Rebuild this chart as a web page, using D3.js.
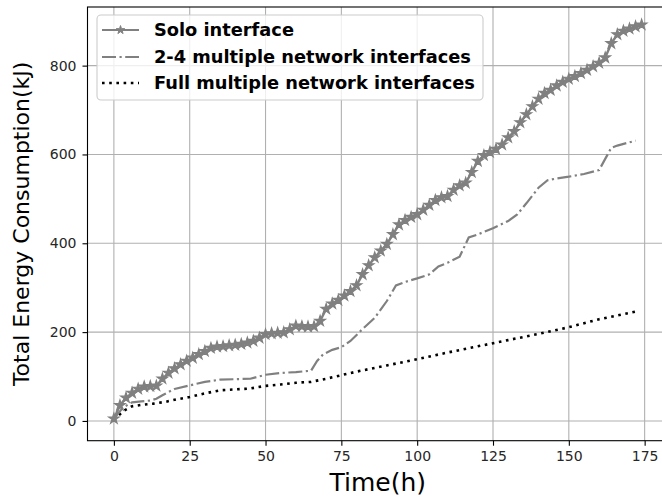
<!DOCTYPE html>
<html>
<head>
<meta charset="utf-8">
<script src="https://cdn.jsdelivr.net/npm/d3@7"></script>
<style>
  body { margin: 0; background: #fff; }
  text { font-family: "DejaVu Sans", sans-serif; }
</style>
</head>
<body>
<div id="chart"></div>
<script>
// solo interface, sampled every 2 h (star markers on every point)
let solo_hours = d3.range(0, 175, 2);
let solo_values = [5, 35, 52, 63, 72, 77, 78, 79, 95, 108,
  118, 127, 135, 142, 150, 157, 164, 167, 168, 170,
  171, 173, 176, 180, 187, 195, 197, 198, 199, 206,
  214, 213, 212, 213, 225, 252, 264, 272, 282, 292,
  305, 330, 350, 368, 383, 398, 420, 442, 452, 459,
  465, 475, 486, 497, 503, 506, 520, 530, 536, 560,
  585, 598, 605, 612, 622, 638, 652, 672, 690, 708,
  725, 738, 745, 755, 763, 770, 776, 783, 790, 798,
  806, 818, 850, 870, 878, 883, 888, 892];

// 2-4 multiple network interfaces
let multi_hours = [0, 3, 6, 9, 12, 14, 16, 20, 25, 30, 35, 40, 45, 50, 55, 60, 65, 67, 69, 72,
  75, 78, 82, 86, 90, 93, 96, 100, 104, 107, 110, 114, 117, 120, 125, 130, 133, 136, 140, 143,
  146, 150, 155, 160, 162, 164, 166, 172];
let multi_values = [5, 30, 42, 44, 46, 50, 58, 72, 80, 88, 93, 94, 95, 104, 108, 110, 113, 135, 150, 160,
  166, 180, 207, 232, 270, 305, 313, 321, 330, 348, 356, 370, 413, 420, 434, 450, 465, 490, 525, 542,
  546, 550, 556, 565, 590, 615, 620, 631];

// full multiple network interfaces
let full_hours = [0, 3, 6, 10, 13, 17, 21, 25, 30, 35, 40, 45, 50, 55, 60, 65, 70, 75, 80, 90,
  100, 110, 120, 130, 140, 150, 160, 172];
let full_values = [2, 22, 33, 37, 39, 43, 49, 54, 62, 69, 71, 73, 79, 82, 86, 88, 95, 103, 111, 125,
  139, 154, 168, 182, 196, 211, 229, 246];

let x_ticks = [0, 25, 50, 75, 100, 125, 150, 175];
let y_ticks = [0, 200, 400, 600, 800];
let legend_labels = ["Solo interface", "2-4 multiple network interfaces", "Full multiple network interfaces"];

let chart_width = 662;
let chart_height = 499;
let plot_left = 87.5, plot_top = 7, plot_right = 668, plot_bottom = 440.7; // right spine falls off the picture

let svg = d3.select("#chart")
  .append("svg")
  .attr("width", chart_width)
  .attr("height", chart_height);

svg.append("rect").attr("width", chart_width).attr("height", chart_height).attr("fill", "#fff");

let x_scale = d3.scaleLinear().domain([-8.7, 182.7]).range([plot_left, plot_right]);
let y_scale = d3.scaleLinear().domain([-44.5, 932]).range([plot_bottom, plot_top]);

// grid
svg.append("g")
  .selectAll("line")
  .data(x_ticks)
  .enter()
  .append("line")
  .attr("x1", d => x_scale(d)).attr("x2", d => x_scale(d))
  .attr("y1", plot_top).attr("y2", plot_bottom)
  .attr("stroke", "#b0b0b0").attr("stroke-width", 1.1);

svg.append("g")
  .selectAll("line")
  .data(y_ticks)
  .enter()
  .append("line")
  .attr("x1", plot_left).attr("x2", plot_right)
  .attr("y1", d => y_scale(d)).attr("y2", d => y_scale(d))
  .attr("stroke", "#b0b0b0").attr("stroke-width", 1.1);

// axes
let x_axis = svg.append("g")
  .attr("transform", "translate(0," + plot_bottom + ")")
  .call(d3.axisBottom(x_scale).tickValues(x_ticks).tickSize(5).tickPadding(5));
let y_axis = svg.append("g")
  .attr("transform", "translate(" + plot_left + ",0)")
  .call(d3.axisLeft(y_scale).tickValues(y_ticks).tickSize(5).tickPadding(6));

[x_axis, y_axis].forEach(function (ax) {
  ax.select(".domain").remove();
  ax.selectAll(".tick line").attr("stroke", "#000").attr("stroke-width", 1.1);
  ax.selectAll(".tick text")
    .attr("fill", "#262626")
    .style("font-family", "DejaVu Sans")
    .style("font-size", "14px");
});

let line = d3.line()
  .x(d => x_scale(d[0]))
  .y(d => y_scale(d[1]));

let solo = d3.zip(solo_hours, solo_values);
let multi = d3.zip(multi_hours, multi_values);
let full = d3.zip(full_hours, full_values);

svg.append("path").datum(full)
  .attr("d", line).attr("fill", "none")
  .attr("stroke", "#000").attr("stroke-width", 2.6)
  .attr("stroke-dasharray", "2.6,4.6");

svg.append("path").datum(multi)
  .attr("d", line).attr("fill", "none")
  .attr("stroke", "#808080").attr("stroke-width", 2.2)
  .attr("stroke-dasharray", "14,3.5,2.2,3.5");

svg.append("path").datum(solo)
  .attr("d", line).attr("fill", "none")
  .attr("stroke", "#808080").attr("stroke-width", 2.4);

let star = d3.symbol().type(d3.symbolStar).size(34);

svg.append("g")
  .selectAll("path")
  .data(solo)
  .enter()
  .append("path")
  .attr("d", star)
  .attr("transform", d => "translate(" + x_scale(d[0]) + "," + y_scale(d[1]) + ")")
  .attr("fill", "#808080")
  .attr("stroke", "#808080")
  .attr("stroke-width", 1.2);

// spines
svg.append("rect")
  .attr("x", plot_left).attr("y", plot_top)
  .attr("width", plot_right - plot_left).attr("height", plot_bottom - plot_top)
  .attr("fill", "none").attr("stroke", "#000").attr("stroke-width", 1.1);

// axis labels
svg.append("text")
  .attr("x", (plot_left + plot_right) / 2).attr("y", 491)
  .attr("text-anchor", "middle")
  .style("font-size", "25px")
  .text("Time(h)");

svg.append("text")
  .attr("transform", "translate(29," + ((plot_top + plot_bottom) / 2) + ") rotate(-90)")
  .attr("text-anchor", "middle")
  .style("font-size", "22px")
  .text("Total Energy Consumption(kJ)");

// legend
let legend = svg.append("g");
legend.append("rect")
  .attr("x", 97).attr("y", 15)
  .attr("width", 386).attr("height", 85)
  .attr("rx", 4)
  .attr("fill", "#fff").attr("fill-opacity", 0.8)
  .attr("stroke", "#cccccc").attr("stroke-width", 1.1);

let row_y = [30, 57, 83];
let styles = [
  { stroke: "#808080", w: 2.1, dash: null },
  { stroke: "#808080", w: 2.2, dash: "14,3.5,2.2,3.5" },
  { stroke: "#000", w: 2.6, dash: "2.6,4.6" }
];

legend.selectAll(".handle")
  .data(legend_labels)
  .enter()
  .append("line")
  .attr("x1", 102).attr("x2", 139)
  .attr("y1", (d, i) => row_y[i]).attr("y2", (d, i) => row_y[i])
  .attr("stroke", (d, i) => styles[i].stroke)
  .attr("stroke-width", (d, i) => styles[i].w)
  .attr("stroke-dasharray", (d, i) => styles[i].dash);

legend.append("path")
  .attr("d", d3.symbol().type(d3.symbolStar).size(22))
  .attr("transform", "translate(120.5," + row_y[0] + ")")
  .attr("fill", "#808080").attr("stroke", "#808080");

legend.selectAll(".label")
  .data(legend_labels)
  .enter()
  .append("text")
  .attr("x", 154)
  .attr("y", (d, i) => row_y[i] + 6.4)
  .style("font-size", "17.8px")
  .style("font-weight", "bold")
  .text(d => d);
</script>
</body>
</html>
